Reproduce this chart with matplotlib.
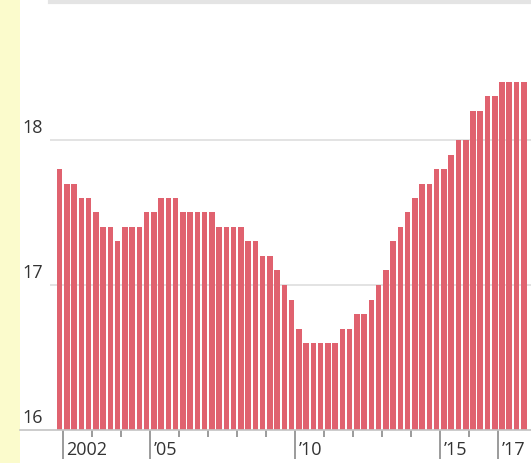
import matplotlib.pyplot as plt
import matplotlib.transforms as mtransforms
from matplotlib.lines import Line2D
from matplotlib.patches import Rectangle

# quarterly values, 2001 Q4 to 2017 Q4
values = [
    17.8,
    17.7, 17.7, 17.6, 17.6,
    17.5, 17.4, 17.4, 17.3,
    17.4, 17.4, 17.4, 17.5,
    17.5, 17.6, 17.6, 17.6,
    17.5, 17.5, 17.5, 17.5,
    17.5, 17.4, 17.4, 17.4,
    17.4, 17.3, 17.3, 17.2,
    17.2, 17.1, 17.0, 16.9,
    16.7, 16.6, 16.6, 16.6,
    16.6, 16.6, 16.7, 16.7,
    16.8, 16.8, 16.9, 17.0,
    17.1, 17.3, 17.4, 17.5,
    17.6, 17.7, 17.7, 17.8,
    17.8, 17.9, 18.0, 18.0,
    18.2, 18.2, 18.3, 18.3,
    18.4, 18.4, 18.4, 18.4,
]
years = list(range(2002, 2018))
year_labels = {2002: "2002", 2005: "\u201905", 2010: "\u201910", 2015: "\u201915", 2017: "\u201917"}
y_ticks = [16, 17, 18]

W, H = 531, 463
fig = plt.figure(figsize=(W / 100, H / 100), dpi=100)
fig.patch.set_facecolor("white")

# pale side strip
fig.patches.append(Rectangle((0, 0), 20 / W, 1, transform=fig.transFigure,
                             facecolor="#fbfbcc", edgecolor="none", zorder=0))

ax = fig.add_axes([50 / W, 33 / H, (W - 50) / W, (H - 33) / H])
ax.set_facecolor("none")

x = list(range(len(values)))
bottoms = [16] * len(values)
heights = [v - 16 for v in values]
ax.bar(x, heights, bottom=bottoms, width=0.76, color="#e0626f",
       edgecolor="none", zorder=3)

ax.set_xlim(-1.34, 65.0)
ax.set_ylim(16, 16 + 430 / 145)

for v in y_ticks[1:]:
    ax.axhline(v, color="#dedede", lw=1.2, zorder=1)

for s in ax.spines.values():
    s.set_visible(False)
ax.set_yticks([])

# year boundary ticks
tick_pos = [0.5 + 4 * (y - 2002) for y in years]
major = [p for p, y in zip(tick_pos, years) if y in year_labels]
minor = [p for p, y in zip(tick_pos, years) if y not in year_labels]
ax.set_xticks(major)
ax.set_xticks(minor, minor=True)
ax.set_xticklabels([])
ax.tick_params(axis="x", which="major", length=21, width=1.2, color="#8a8a8a")
ax.tick_params(axis="x", which="minor", length=5, width=1.2, color="#8a8a8a")

for p, y in zip(tick_pos, years):
    if y in year_labels:
        ax.annotate(year_labels[y], xy=(p, 0), xycoords=("data", "axes fraction"),
                    xytext=(3, -29), textcoords="offset pixels",
                    ha="left", va="bottom", fontsize=13, color="#333333",
                    family="Open Sans")

# baseline across the label column
fig.lines.append(Line2D([20 / W, 1], [33 / H, 33 / H], transform=fig.transFigure,
                        color="#c4c4c4", lw=1.2, zorder=5))
# top rule
fig.lines.append(Line2D([50 / W, 1], [1 - 2 / H, 1 - 2 / H], transform=fig.transFigure,
                        color="#e4e4e4", lw=3, zorder=5))

trans = mtransforms.blended_transform_factory(fig.transFigure, ax.transData)
for v in y_ticks:
    ax.text(22 / W, v + 0.02, str(v), transform=trans, ha="left", va="bottom",
            fontsize=13, color="#333333", family="Open Sans")

fig.savefig("out.png", dpi=100)
